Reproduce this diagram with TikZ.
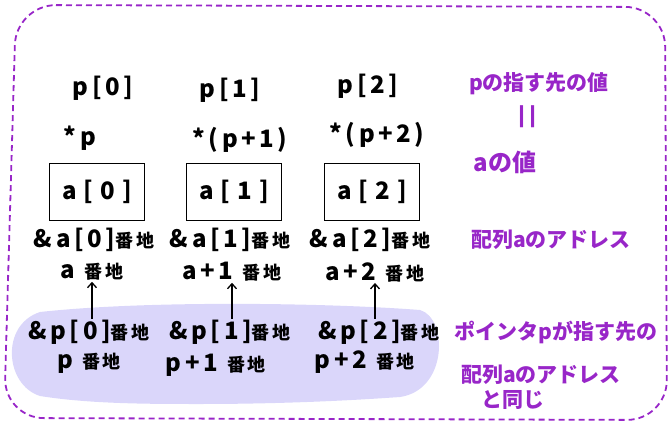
\documentclass[tikz,border=0pt]{standalone}
\usepackage{fontspec}
\setmainfont{Noto Sans CJK JP}
\newfontfamily\handfont[LetterSpace=15]{Noto Sans CJK JP}
\newfontfamily\cellfont[LetterSpace=30]{Noto Sans CJK JP}
\usetikzlibrary{arrows.meta, positioning}
\definecolor{notepurple}{RGB}{152, 38, 200}
\definecolor{blobfill}{RGB}{218, 214, 250}
\newcommand{\bnch}{{\fontsize{18}{18}\selectfont 番地}}

\begin{document}
\begin{tikzpicture}[x=1pt, y=-1pt,
  lbl/.style={font=\handfont\bfseries\fontsize{24}{26}\selectfont, inner sep=1pt},
  cell/.style={draw, line width=1.6pt, minimum width=95pt, minimum height=57pt,
    font=\cellfont\bfseries\fontsize{24}{26}\selectfont, inner sep=0pt},
  note/.style={font=\bfseries\fontsize{21}{23}\selectfont, text=notepurple, inner sep=0pt},
  ptr/.style={line width=1.3pt, -{Straight Barb[length=5pt, width=9pt]}}]
\useasboundingbox (0,0) rectangle (672,428);

% Frame
\draw[notepurple, line width=1.8pt, dash pattern=on 6pt off 4pt, rounded corners=40pt]
  (16,5) -- (665,7) -- (667,420) -- (4,418) -- cycle;

% Pointer area
\fill[blobfill] (40,312) .. controls (150,300) and (330,303) .. (420,310)
  .. controls (448,318) and (448,390) .. (400,397)
  .. controls (330,402) and (260,404) .. (200,404)
  .. controls (150,404) and (90,404) .. (40,396)
  .. controls (5,385) and (0,325) .. (40,312) -- cycle;

% Array elements
\node[lbl] (pi0) at (103,88) {p[0]};
\node[lbl] (pi1) at (230,90) {p[1]};
\node[lbl] (pi2) at (368,86) {p[2]};

\node[lbl] (dr0) at (80,138) {*p};
\node[lbl] (dr1) at (240,140) {*(p+1)};
\node[lbl] (dr2) at (377,135) {*(p+2)};

\node[cell] (el0) at (97,192) {a[0]};
\node[cell] (el1) at (234,192) {a[1]};
\node[cell] (el2) at (372,192) {a[2]};

% Addresses of a
\node[lbl] (aa0) at (94,240) {\&a[0]\bnch};
\node[lbl] (aa1) at (230,240) {\&a[1]\bnch};
\node[lbl] (aa2) at (370,240) {\&a[2]\bnch};

\node[lbl] (ab0) at (92,272) {a \bnch};
\node[lbl] (ab1) at (232,272) {a+1 \bnch};
\node[lbl] (ab2) at (375,272) {a+2 \bnch};

% Addresses of p
\node[lbl] (pa0) at (89,332) {\&p[0]\bnch};
\node[lbl] (pa1) at (230,332) {\&p[1]\bnch};
\node[lbl] (pa2) at (379,332) {\&p[2]\bnch};

\node[lbl] (pb0) at (89,363) {p \bnch};
\node[lbl] (pb1) at (216,365) {p+1 \bnch};
\node[lbl] (pb2) at (365,362) {p+2 \bnch};

\foreach \i in {0,1,2}
  \draw[ptr] (pa\i.north -| ab\i.south) -- (ab\i.south);

% Notes
\node[note] (n1) at (539,84) {pの指す先の値};
\node[note, rotate=90, font=\fontsize{46}{46}\selectfont] (n2) at (532,117) {=};
\node[note, font=\bfseries\fontsize{24}{26}\selectfont] (n3) at (505,162) {aの値};
\node[note] (n4) at (551,240) {配列aのアドレス};
\node[note] (n5) at (556,332) {ポインタpが指す先の};
\node[note] (n6) at (541,375) {配列aのアドレス};
\node[note] (n7) at (513,400) {と同じ};
\end{tikzpicture}
\end{document}
